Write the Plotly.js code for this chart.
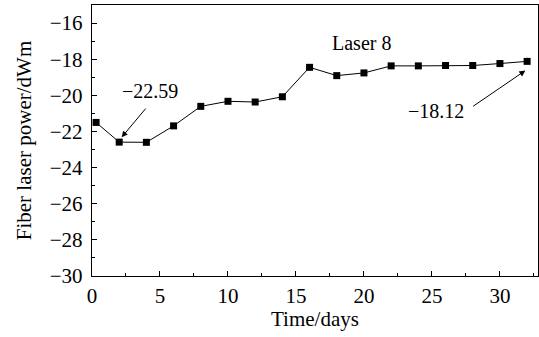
<!DOCTYPE html>
<html><head><meta charset="utf-8">
<script src="https://cdn.plot.ly/plotly-3.0.1.min.js"></script>
<style>html,body{margin:0;padding:0;background:#fff}#chart{width:539px;height:337px}</style>
</head><body><div id="chart"></div>
<script>
const days = [0.3, 2, 4, 6, 8, 10, 12, 14, 16, 18, 20, 22, 24, 26, 28, 30, 32];
const power = [-21.5, -22.59, -22.6, -21.69, -20.61, -20.33, -20.37, -20.08, -18.45, -18.91, -18.76, -18.37, -18.37, -18.35, -18.35, -18.24, -18.12];
const seriesLabel = "Laser 8";
const minLabel = "\u221222.59";
const lastLabel = "\u221218.12";

const F = "Liberation Serif, Times New Roman, serif";
const trace = {
  x: days, y: power, mode: "lines+markers", type: "scatter",
  line: {color: "#000", width: 1},
  marker: {symbol: "square", size: 7, color: "#000"},
  cliponaxis: false, showlegend: false
};
const layout = {
  width: 539, height: 337,
  margin: {l: 92, r: 1, t: 5, b: 61},
  paper_bgcolor: "#fff", plot_bgcolor: "#fff",
  font: {family: F, size: 20, color: "#000"},
  xaxis: {
    range: [0, 32.8], dtick: 5, tick0: 0, ticks: "inside", ticklen: 5, tickwidth: 1, tickcolor: "#000",
    minor: {dtick: 2.5, ticks: "inside", ticklen: 3, tickcolor: "#000"},
    showline: true, linecolor: "#000", linewidth: 1.3, mirror: true, showgrid: false, zeroline: false,
    tickfont: {family: F, size: 21}, ticklabelstandoff: 0,
    title: {text: "Time/days", font: {family: F, size: 21}, standoff: 3}
  },
  yaxis: {
    range: [-30, -15], dtick: 2, tick0: -30, ticks: "inside", ticklen: 5, tickwidth: 1, tickcolor: "#000",
    minor: {dtick: 1, ticks: "inside", ticklen: 3, tickcolor: "#000"},
    showline: true, linecolor: "#000", linewidth: 1.3, mirror: true, showgrid: false, zeroline: false,
    tickfont: {family: F, size: 21}, tickformat: "d", ticklabelstandoff: 4,
    title: {text: "Fiber laser power/dWm", font: {family: F, size: 21}, standoff: 12}
  },
  annotations: [
    {x: 19.8, y: -17.1, xref: "x", yref: "y", text: seriesLabel, showarrow: false, font: {family: F, size: 20}},
    {x: 4.28, y: -19.75, xref: "x", yref: "y", text: minLabel, showarrow: false, font: {family: F, size: 20}},
    {x: 25.3, y: -20.85, xref: "x", yref: "y", text: lastLabel, showarrow: false, font: {family: F, size: 20}},
    {x: 2.18, y: -22.32, ax: 4.04, ay: -20.65, xref: "x", yref: "y", axref: "x", ayref: "y", text: "", showarrow: true, arrowhead: 2, arrowsize: 1.2, arrowwidth: 1, arrowcolor: "#000"},
    {x: 31.87, y: -18.63, ax: 27.92, ay: -20.66, xref: "x", yref: "y", axref: "x", ayref: "y", text: "", showarrow: true, arrowhead: 2, arrowsize: 1.2, arrowwidth: 1, arrowcolor: "#000"}
  ]
};
Plotly.newPlot("chart", [trace], layout, {displayModeBar: false, staticPlot: true});
</script></body></html>
